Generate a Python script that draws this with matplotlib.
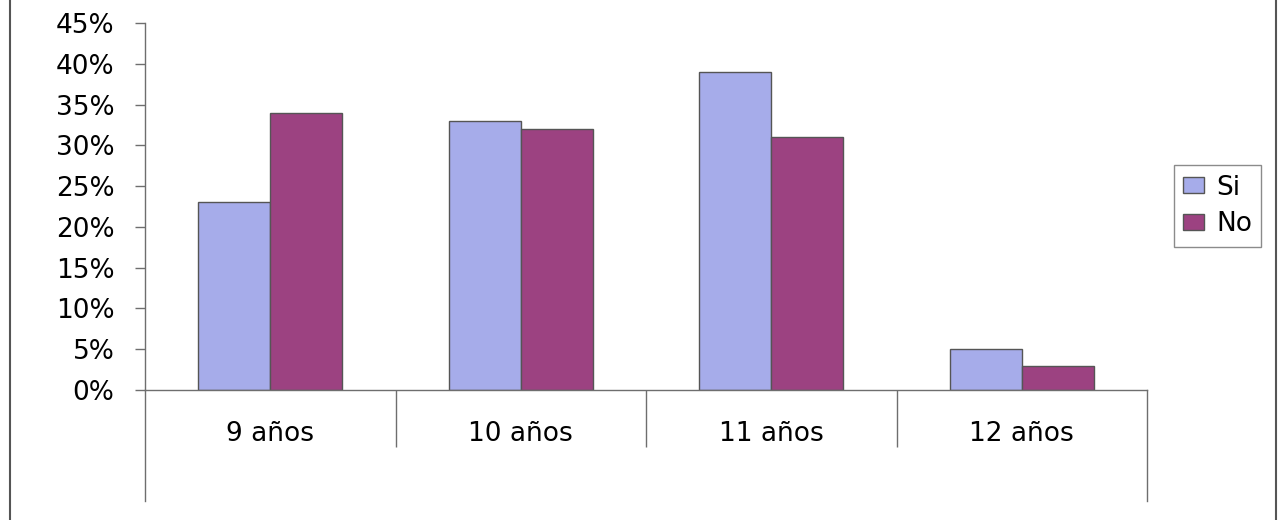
import matplotlib
matplotlib.use('Agg')
import matplotlib.pyplot as plt
from matplotlib.lines import Line2D
import numpy as np

categories = ['9 años', '10 años', '11 años', '12 años']
si_values = [23, 33, 39, 5]
no_values = [34, 32, 31, 3]
yticks = [0, 5, 10, 15, 20, 25, 30, 35, 40, 45]

si_color = '#a6acea'
no_color = '#9c4281'
line_color = '#6e6e6e'
fsize = 19

W, H = 1278, 520
fig = plt.figure(figsize=(W / 100, H / 100), dpi=100)
ax = fig.add_axes([145 / W, (H - 390) / H, (1147 - 145) / W, (390 - 23) / H])

x = np.arange(len(categories))
bw = 0.288
ax.bar(x - bw / 2, si_values, bw, color=si_color, edgecolor='#555555', linewidth=1, label='Si')
ax.bar(x + bw / 2, no_values, bw, color=no_color, edgecolor='#555555', linewidth=1, label='No')

ax.set_xlim(-0.5, len(categories) - 0.5)
ax.set_ylim(0, 45)
ax.set_yticks(yticks)
ax.set_yticklabels([f'{v}%' for v in yticks])
ax.tick_params(axis='y', length=7, width=1, color=line_color, pad=15, labelsize=fsize)

# category labels and boundary ticks
ax.set_xticks(x)
ax.set_xticklabels(categories)
ax.tick_params(axis='x', which='major', length=0, pad=22, labelsize=fsize)
ax.set_xticks(np.arange(1, len(categories)) - 0.5, minor=True)
ax.tick_params(axis='x', which='minor', length=41, width=1, color=line_color)

for s in ['top', 'right']:
    ax.spines[s].set_visible(False)
for s in ['left', 'bottom']:
    ax.spines[s].set_color(line_color)
    ax.spines[s].set_linewidth(1)

# outer category lines extending below the axis
for px in [145, 1147]:
    fig.add_artist(Line2D([px / W, px / W], [(H - 390) / H, (H - 501) / H],
                          color=line_color, linewidth=1))

# chart frame edges
for px in [10, 1276]:
    fig.add_artist(Line2D([px / W, px / W], [0, 1], color='#555555', linewidth=1.5))

leg = ax.legend(loc='center left', bbox_to_anchor=(1174 / W, (H - 206) / H),
                bbox_transform=fig.transFigure, frameon=True, fancybox=False,
                fontsize=fsize, handlelength=0.8, handleheight=0.55, handletextpad=0.45,
                borderpad=0.35, labelspacing=0.4, borderaxespad=0)
leg.get_frame().set_edgecolor(line_color)
leg.get_frame().set_linewidth(1)

fig.savefig('out.png', dpi=100)
